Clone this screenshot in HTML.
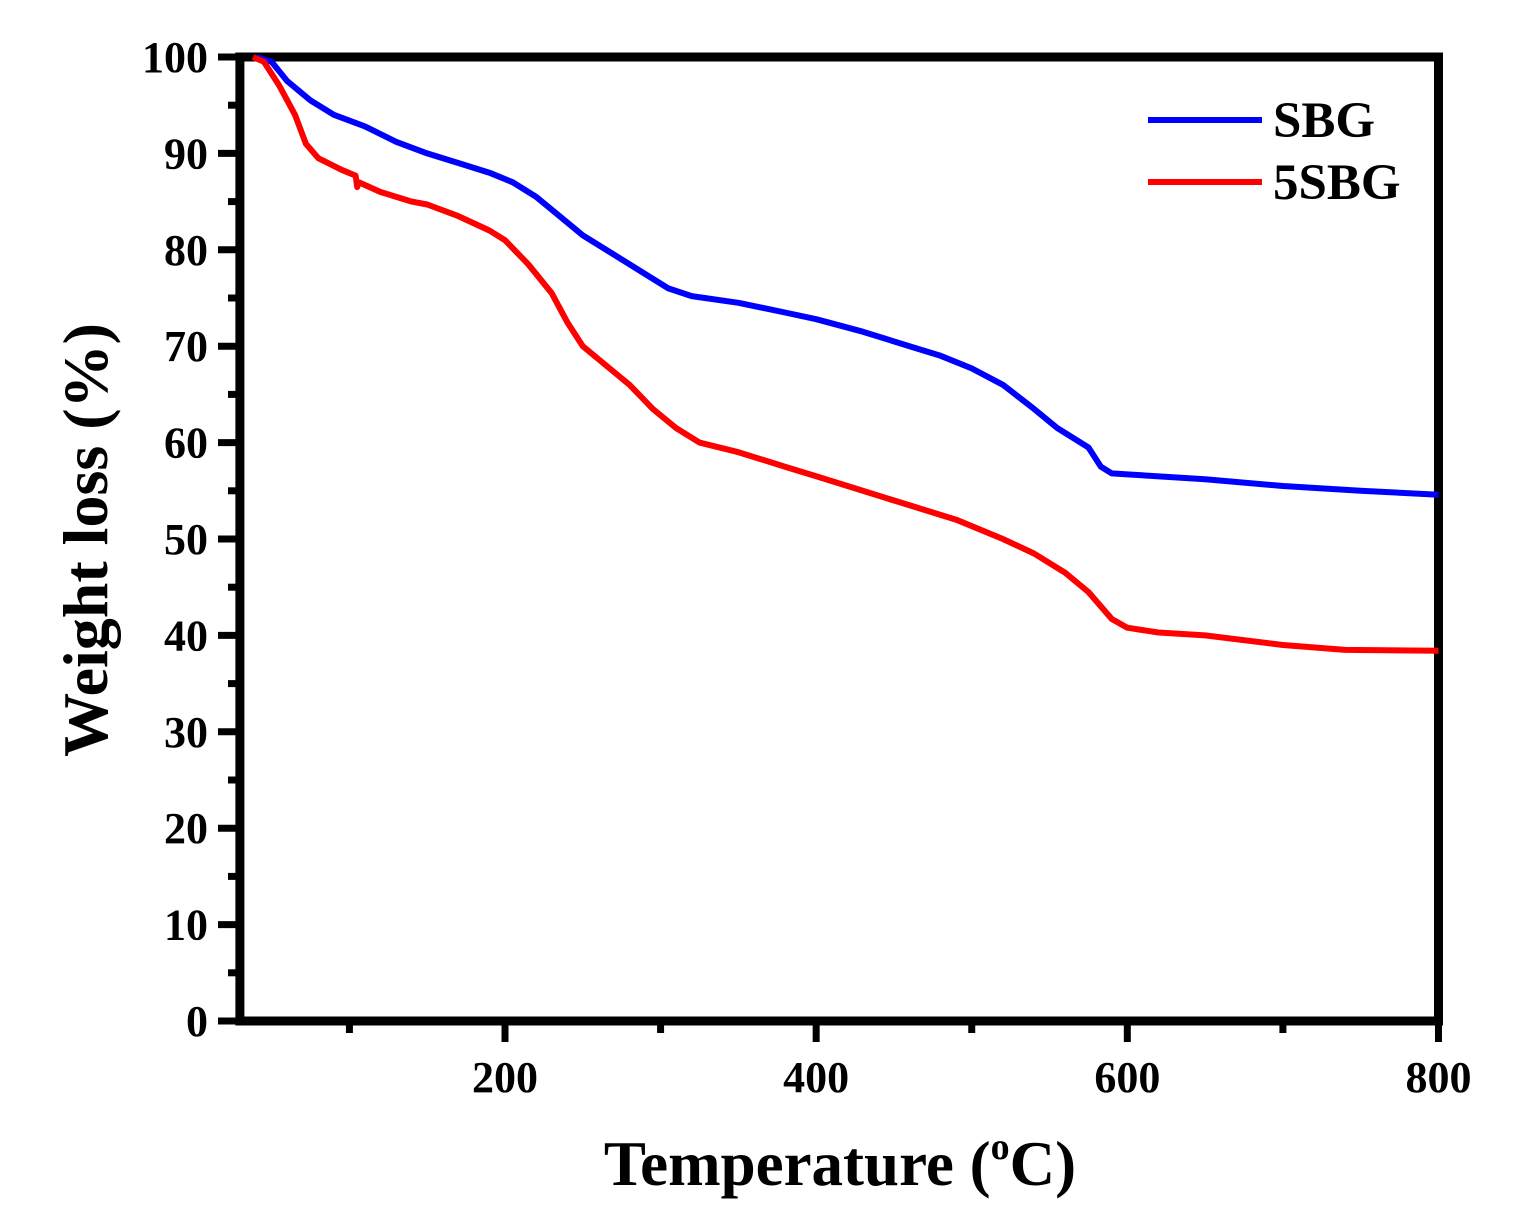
<!DOCTYPE html>
<html><head><meta charset="utf-8"><style>
body{margin:0;background:#fff}
svg text{font-family:"Liberation Serif",serif;font-weight:bold;fill:#000}
</style></head><body>
<svg width="1539" height="1226" xmlns="http://www.w3.org/2000/svg">
<g id="axes"></g>
<g id="series"></g>
<text x="840" y="1185" font-size="63" text-anchor="middle">Temperature (<tspan font-size="38" dy="-26">o</tspan><tspan dy="26">C)</tspan></text>
<text transform="translate(107,540) rotate(-90)" font-size="64" text-anchor="middle">Weight loss (%)</text>
<g>
<line x1="1148" y1="120" x2="1262" y2="120" stroke="#0000ff" stroke-width="6"/>
<text x="1273" y="137" font-size="51">SBG</text>
<line x1="1148" y1="182" x2="1262" y2="182" stroke="#ff0000" stroke-width="6"/>
<text x="1273" y="199" font-size="51">5SBG</text>
</g>
</svg>
<script>
const sbgT=[40,50,60,75,90,110,130,150,170,190,205,220,235,250,270,290,305,320,350,380,400,430,460,480,500,520,540,555,575,583,590,600,650,700,750,800];
const sbgW=[100,99.5,97.5,95.5,94,92.8,91.2,90,89,88,87,85.5,83.5,81.5,79.5,77.5,76,75.2,74.5,73.5,72.8,71.5,70,69,67.7,66,63.5,61.5,59.5,57.5,56.8,56.7,56.2,55.5,55,54.6];
const s5T=[38,45,55,65,72,80,95,104,105,106,120,140,150,170,190,200,215,230,240,250,265,280,295,310,325,350,380,400,430,460,490,520,540,560,575,590,600,620,650,700,740,800];
const s5W=[100,99.5,97,94,91,89.5,88.3,87.7,86.5,87,86,85,84.7,83.5,82,81,78.5,75.5,72.5,70,68,66,63.5,61.5,60,59,57.5,56.5,55,53.5,52,50,48.5,46.5,44.5,41.7,40.8,40.3,40,39,38.5,38.4];
const xTicks=[200,400,600,800];
const xMinor=[100,300,500,700];
const yTicks=[0,10,20,30,40,50,60,70,80,90,100];
const NS="http://www.w3.org/2000/svg";
const X=v=>505+(v-200)*1.5558;
const Y=v=>1021-v*9.64;
const ax=document.getElementById('axes'),se=document.getElementById('series');
function mk(tag,at,p){const e=document.createElementNS(NS,tag);for(const k in at)e.setAttribute(k,at[k]);p.appendChild(e);return e;}
let f=mk('rect',{x:X(29.6),y:Y(100),width:X(800)-X(29.6),height:Y(0)-Y(100),fill:'none',stroke:'#000','stroke-width':9},ax);


yTicks.forEach(v=>{
 let l=mk('line',{x1:218,x2:X(29.6),y1:Y(v),y2:Y(v),stroke:'#000','stroke-width':7},ax);
 
 
 if(v<100){let m=mk('line',{x1:228,x2:X(29.6),y1:Y(v+5),y2:Y(v+5),stroke:'#000','stroke-width':7},ax);
 
 }
 let t=mk('text',{x:208,y:Y(v)+15,'font-size':44,'text-anchor':'end'},ax);t.textContent=v;
 
 
});
xTicks.forEach(v=>{
 let l=mk('line',{x1:X(v),x2:X(v),y1:Y(0),y2:1042,stroke:'#000','stroke-width':7},ax);
 
 
 let t=mk('text',{x:X(v),y:1092,'font-size':44,'text-anchor':'middle'},ax);t.textContent=v;
 
 
});
xMinor.forEach(v=>{
 let l=mk('line',{x1:X(v),x2:X(v),y1:Y(0),y2:1033,stroke:'#000','stroke-width':7},ax);
 
 
});
function line(T,W,c,n){
 let d=T.map((t,i)=>(i?'L':'M')+X(t).toFixed(1)+','+Y(W[i]).toFixed(1)).join('');
 let p=mk('path',{d:d,fill:'none',stroke:c,'stroke-width':6,'stroke-linejoin':'round'},se);
 
 
}
line(sbgT,sbgW,'#0000ff','series-sbg');
line(s5T,s5W,'#ff0000','series-5sbg');
</script>
</body></html>
